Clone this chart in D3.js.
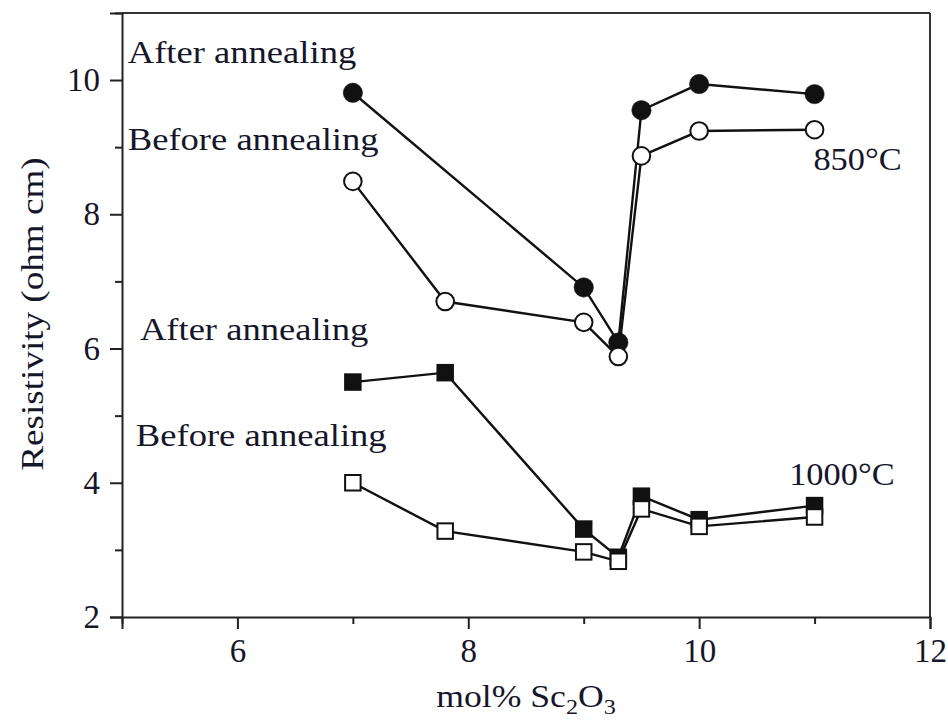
<!DOCTYPE html>
<html>
<head>
<meta charset="utf-8">
<script src="https://cdn.jsdelivr.net/npm/d3@7/dist/d3.min.js"></script>
<style>
  html, body { margin: 0; padding: 0; background: #fff; }
  svg { display: block; }
  text { font-family: "Liberation Serif", "DejaVu Serif", serif; fill: #16162a; }
</style>
</head>
<body>
<svg id="chart" width="948" height="724"></svg>
<script>
// Sc2O3 content (mol%) of each sample
const compAfter850 = [7, 9, 9.3, 9.5, 10, 11];
const compBefore850 = [7, 7.8, 9, 9.3, 9.5, 10, 11];
const comp1000 = [7, 7.8, 9, 9.3, 9.5, 10, 11];

// Resistivity (ohm cm)
const after850 = [9.81, 6.91, 6.09, 9.55, 9.94, 9.79];
const before850 = [8.49, 6.70, 6.39, 5.88, 8.87, 9.24, 9.26];
const after1000 = [5.50, 5.64, 3.31, 2.89, 3.80, 3.45, 3.66];
const before1000 = [4.00, 3.28, 2.97, 2.83, 3.61, 3.35, 3.49];

// Axis ticks
const xTicks = [5, 6, 7, 8, 9, 10, 11, 12];
const xTickLabels = ["", "6", "", "8", "", "10", "", "12"];
const yTicks = [2, 3, 4, 5, 6, 7, 8, 9, 10, 11];
const yTickLabels = ["2", "", "4", "", "6", "", "8", "", "10", ""];

const svg = d3.select("#chart");
const ink = "#111";

const x = d3.scaleLinear().domain([5, 12]).range([122, 930]);
const y = d3.scaleLinear().domain([2, 11]).range([617, 12.9]);

// Serif text, slightly widened to suit the typeface of the figure
function label(parent, px, py, str, size, stretch, anchor, rotate) {
  const g = parent.append("g")
    .attr("transform", `translate(${px},${py})` + (rotate ? ` rotate(${rotate})` : ""));
  return g.append("text")
    .attr("transform", `scale(${stretch},1)`)
    .attr("text-anchor", anchor || "start")
    .attr("font-size", size)
    .text(str);
}

// Frame: top and right edges
svg.append("line")
  .attr("x1", x(5)).attr("x2", x(12))
  .attr("y1", y(11)).attr("y2", y(11))
  .attr("stroke", "#333").attr("stroke-width", 2);
svg.append("line")
  .attr("x1", x(12)).attr("x2", x(12))
  .attr("y1", y(11)).attr("y2", y(2))
  .attr("stroke", "#333").attr("stroke-width", 2);

// Bottom axis
const xAxis = svg.append("g")
  .attr("transform", `translate(0,${y(2)})`)
  .call(d3.axisBottom(x).tickValues(xTicks)
    .tickFormat((d, i) => xTickLabels[i])
    .tickSizeOuter(0).tickSize(12).tickPadding(10));
xAxis.selectAll(".tick line")
  .attr("y2", (d, i) => xTickLabels[i] === "" ? 7 : 12);

// Left axis
const yAxis = svg.append("g")
  .attr("transform", `translate(${x(5)},0)`)
  .call(d3.axisLeft(y).tickValues(yTicks)
    .tickFormat((d, i) => yTickLabels[i])
    .tickSizeOuter(0).tickSize(12).tickPadding(10));
yAxis.selectAll(".tick line")
  .attr("x2", (d, i) => yTickLabels[i] === "" ? -7 : -12);

[xAxis, yAxis].forEach(g => {
  g.select(".domain").attr("stroke", "#222").attr("stroke-width", 2);
  g.selectAll(".tick line").attr("stroke", "#222").attr("stroke-width", 2);
  g.selectAll(".tick text")
    .style("font-family", "'Liberation Serif', serif")
    .style("font-size", "33px").attr("fill", "#16162a");
});

// Axis titles
const xTitle = label(svg, 526, 707, null, 31, 1.15, "middle");
xTitle.append("tspan").text("mol% Sc");
xTitle.append("tspan").attr("font-size", 21).attr("dy", 7).text("2");
xTitle.append("tspan").attr("dy", -7).text("O");
xTitle.append("tspan").attr("font-size", 21).attr("dy", 7).text("3");

label(svg, 43, 314, "Resistivity (ohm cm)", 32, 1.16, "middle", -90);

// Series lines and markers
const line = d3.line().x(d => x(d[0])).y(d => y(d[1]));
const series = [
  { xs: compAfter850, ys: after850, shape: "circle", filled: true },
  { xs: compBefore850, ys: before850, shape: "circle", filled: false },
  { xs: comp1000, ys: after1000, shape: "square", filled: true },
  { xs: comp1000, ys: before1000, shape: "square", filled: false }
];

series.forEach(s => {
  const pts = s.xs.map((v, i) => [v, s.ys[i]]);
  svg.append("path")
    .datum(pts)
    .attr("d", line)
    .attr("fill", "none")
    .attr("stroke", ink)
    .attr("stroke-width", 2.4);
});

series.forEach(s => {
  const pts = s.xs.map((v, i) => [v, s.ys[i]]);
  const g = svg.append("g");
  if (s.shape === "circle") {
    g.selectAll("circle").data(pts).join("circle")
      .attr("cx", d => x(d[0])).attr("cy", d => y(d[1]))
      .attr("r", s.filled ? 9.7 : 8.8)
      .attr("fill", s.filled ? ink : "#fff")
      .attr("stroke", ink)
      .attr("stroke-width", s.filled ? 0.5 : 2);
  } else {
    const side = 15.5;
    g.selectAll("rect").data(pts).join("rect")
      .attr("x", d => x(d[0]) - side / 2).attr("y", d => y(d[1]) - side / 2)
      .attr("width", side).attr("height", side)
      .attr("fill", s.filled ? ink : "#fff")
      .attr("stroke", ink)
      .attr("stroke-width", 2);
  }
});

// Annotations
const noteText = ["After annealing", "Before annealing", "After annealing",
                  "Before annealing", "850°C", "1000°C"];
const noteAt = [[5.05, 10.25], [5.05, 8.96], [5.155, 6.12],
                [5.12, 4.555], [10.99, 8.66], [10.78, 3.96]];
noteText.forEach((t, i) => {
  const wide = i < 4 ? 1.18 : 1.11;
  label(svg, x(noteAt[i][0]), y(noteAt[i][1]), t, 31, wide, "start");
});
</script>
</body>
</html>
